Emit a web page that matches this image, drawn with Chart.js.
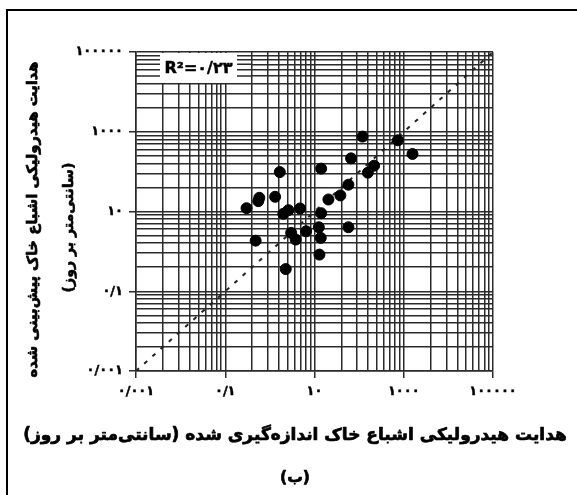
<!DOCTYPE html>
<html lang="fa">
<head>
<meta charset="utf-8">
<script src="https://cdn.jsdelivr.net/npm/chart.js@4.4.1/dist/chart.umd.min.js"></script>
<style>
  html, body { margin: 0; padding: 0; background: #fff; }
  #wrap { width: 577px; height: 495px; }
</style>
</head>
<body>
<div id="wrap"><canvas id="chart" width="577" height="495"></canvas></div>
<script>
const measured  = [119, 738, 1570, 66, 217, 157, 14.1, 1.67, 57.5, 38, 20.5, 1.31, 0.58, 0.55,
                   0.30, 2.6, 2.0, 4.75, 14.1, 12.5, 57.5, 6.5, 3.0, 3.8, 13.8, 0.48, 12.9, 2.27];
const predicted = [757, 611, 277, 215, 141, 94, 119, 97.5, 47, 25.3, 20, 23.4, 22.1, 18.2,
                   12.1, 10.8, 8.75, 11.9, 9.06, 4.03, 4.03, 3.19, 2.91, 1.98, 2.18, 1.86, 0.83, 0.36];

const tickValues = [0.001, 0.1, 10, 1000, 100000];
const tickLabels = ['۰/۰۰۱', '۰/۱', '۱۰', '۱۰۰۰', '۱۰۰۰۰۰'];
// graph-paper lines inside each labelled cycle
const gridMultipliers = [4, 9, 16, 25, 36, 49, 64, 81];
const oneToOne = [0.001, 100000];

const r2Label = 'R²=۰/۲۳';
const xTitle = 'هدایت هیدرولیکی اشباع خاک اندازه‌گیری شده (سانتی‌متر بر روز)';
const yTitle = ['هدایت هیدرولیکی اشباع خاک پیش‌بینی شده', '(سانتی‌متر بر روز)'];
const panelLabel = '(ب)';

const FONT = '"DejaVu Sans", "Noto Sans", sans-serif';
const INK = '#2a2a2a';

const gridValues = [];
tickValues.forEach((v, i) => {
    gridValues.push(v);
    if (i < tickValues.length - 1) gridMultipliers.forEach(m => gridValues.push(v * m));
});

function isMajor(v) {
    return tickValues.some(t => Math.abs(Math.log10(v) - Math.log10(t)) < 1e-6);
}
function labelFor(v) {
    const i = tickValues.findIndex(t => Math.abs(Math.log10(v) - Math.log10(t)) < 1e-6);
    return i >= 0 ? tickLabels[i] : '';
}

function fitSize(ctx, text, targetWidth, maxSize) {
    ctx.font = 'bold ' + maxSize + 'px ' + FONT;
    const w = ctx.measureText(text).width;
    return Math.min(maxSize, maxSize * targetWidth / w);
}

// bold text, thickened with a thin stroke so it reads as heavy as the original
function drawText(ctx, text, x, y, width, maxSize, rotate, rtl, stroke) {
    ctx.save();
    const size = fitSize(ctx, text, width, maxSize);
    ctx.font = 'bold ' + size + 'px ' + FONT;
    ctx.direction = rtl ? 'rtl' : 'ltr';
    ctx.textAlign = 'center';
    ctx.textBaseline = 'middle';
    ctx.fillStyle = '#000';
    ctx.strokeStyle = '#000';
    ctx.lineWidth = stroke;
    ctx.lineJoin = 'round';
    ctx.translate(x, y);
    if (rotate) ctx.rotate(-Math.PI / 2);
    ctx.fillText(text, 0, 0);
    if (stroke > 0) ctx.strokeText(text, 0, 0);
    ctx.restore();
}

const overlay = {
    id: 'overlay',
    beforeDatasetsDraw(chart) {
        const { ctx, chartArea: a, scales: { y } } = chart;
        // white box of the R² label covers the top-left corner of the grid
        const boxRight = a.left + 115, boxBottom = a.top + 31;
        const textL = a.left + 24, textR = a.left + 101;
        ctx.save();
        ctx.fillStyle = '#fff';
        ctx.fillRect(a.left + 1, a.top + 1, boxRight - a.left - 1, boxBottom - a.top - 1);
        ctx.strokeStyle = INK;
        ctx.lineWidth = 1.5;
        y.ticks.forEach(t => {
            const py = y.getPixelForValue(t.value);
            if (py <= a.top + 1 || py >= boxBottom) return;
            ctx.beginPath();
            ctx.moveTo(a.left, py); ctx.lineTo(textL, py);
            ctx.moveTo(textR, py); ctx.lineTo(boxRight, py);
            ctx.stroke();
        });
        ctx.restore();
        drawText(ctx, r2Label, (textL + textR) / 2, a.top + 17, 68, 17, false, false, 0.5);
    },
    afterDraw(chart) {
        const { ctx, chartArea: a } = chart;
        const midY = (a.top + a.bottom) / 2;
        drawText(ctx, yTitle[0], 33, midY + 8, 316, 18, true, true, 0.7);
        drawText(ctx, yTitle[1], 69, midY + 16, 130, 16, true, true, 0.6);
        drawText(ctx, xTitle, 295, 436, 547, 17, false, true, 0.7);
        drawText(ctx, panelLabel, 295, 478, 30, 17, false, true, 0.7);
        // frame around the figure
        ctx.save();
        ctx.strokeStyle = '#000';
        ctx.lineWidth = 2;
        ctx.beginPath();
        ctx.moveTo(7, 495); ctx.lineTo(7, 10); ctx.lineTo(577, 10);
        ctx.stroke();
        ctx.restore();
    }
};

function logAxis(isX) {
    return {
        type: 'logarithmic',
        min: 0.001,
        max: 100000,
        afterBuildTicks: s => { s.ticks = gridValues.map(v => ({ value: v, major: isMajor(v) })); },
        afterFit: s => { if (isX) s.height = 124; else s.width = 136; },
        ticks: {
            autoSkip: false,
            maxRotation: 0,
            padding: isX ? 6 : 6,
            color: '#000',
            textStrokeColor: '#000',
            textStrokeWidth: 0.5,
            font: { family: FONT, size: 13, weight: 'bold' },
            callback: v => labelFor(v)
        },
        grid: {
            color: INK,
            lineWidth: 1.5,
            drawTicks: true,
            tickLength: 7,
            tickColor: c => (c.tick && isMajor(c.tick.value)) ? INK : 'rgba(0,0,0,0)'
        },
        border: { display: true, color: INK, width: 1.5 },
        title: { display: false }
    };
}

new Chart(document.getElementById('chart'), {
    data: {
        datasets: [{
            type: 'scatter',
            data: measured.map((m, i) => ({ x: m, y: predicted[i] })),
            backgroundColor: '#000',
            borderColor: '#000',
            pointRadius: 5.5,
            pointHoverRadius: 5.5,
            order: 1
        }, {
            type: 'line',
            data: oneToOne.map(v => ({ x: v, y: v })),
            borderColor: '#222',
            borderWidth: 2,
            borderDash: [4, 7],
            pointRadius: 0,
            fill: false,
            order: 2
        }]
    },
    options: {
        responsive: false,
        animation: false,
        devicePixelRatio: 1,
        layout: { padding: { top: 52, right: 84, left: 0, bottom: 0 } },
        plugins: { legend: { display: false }, tooltip: { enabled: false } },
        scales: { x: logAxis(true), y: logAxis(false) }
    },
    plugins: [overlay]
});
</script>
</body>
</html>
